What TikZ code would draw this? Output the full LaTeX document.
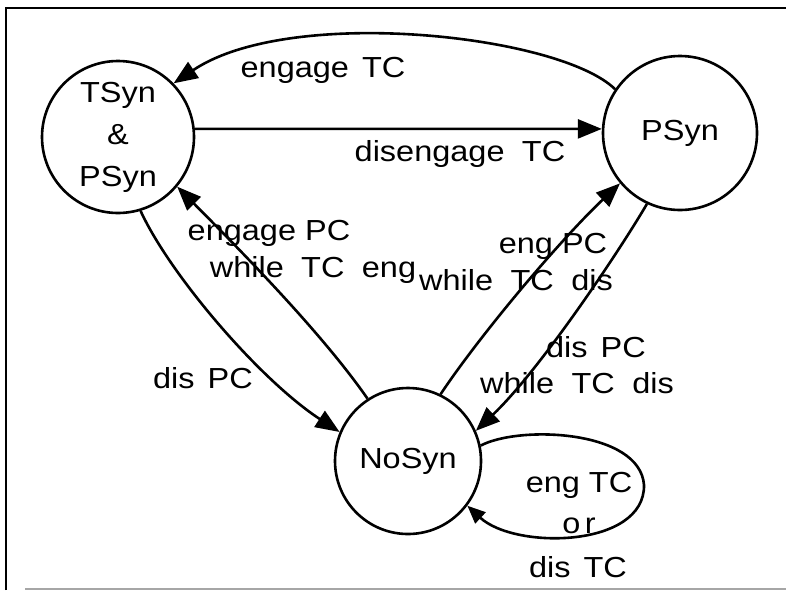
\documentclass[tikz,border=0pt]{standalone}
\usepackage{fontspec}
\setmainfont[FakeStretch=1.12]{Liberation Sans}
\usetikzlibrary{arrows.meta}
\newcommand{\wsp}{\hspace{0.6em}}
\begin{document}
\begin{tikzpicture}[x=1pt,y=-1pt,
  state/.style={circle,draw,line width=2.6pt,inner sep=0pt,minimum size=152pt,align=center,font=\fontsize{29}{42}\selectfont},
  lbl/.style={font=\fontsize{29}{38}\selectfont,inner sep=0pt,anchor=base,align=center},
  edge/.style={line width=2.6pt,-{Triangle[length=24pt,width=19pt]}},
  frame/.style={line width=2.2pt}]
\useasboundingbox (0,0) rectangle (786,590);
\draw[frame] (6,590) -- (6,8) -- (786,8);
\draw[line width=1.6pt,gray!70] (25,589) -- (786,589);

\node[state] (ts) at (118,137) {TSyn\\\&\\PSyn};
\node[state,minimum size=154pt] (ps) at (680,133) {PSyn};
\node[state,minimum size=146pt] (ns) at (408,461) {NoSyn};

% engage TC
\draw[edge] (ps.146) .. controls (560,35) and (290,5) .. (ts.44);
\node[lbl] (l1) at (323,77) {engage\hspace{0.45em}TC};
% disengage TC
\draw[edge] (ts.6) -- (ps.177);
\node[lbl] (l2) at (460,161) {disengage\wsp TC};
% engage PC while TC eng
\draw[edge] (ns.123) .. controls (320,330) and (230,240) .. (ts.-40);
\node[lbl] (l3) at (269,240) {engage PC};
\node[lbl] (l4) at (313,277) {while\wsp TC\wsp eng};
% dis PC
\draw[edge] (ts.-73) .. controls (170,275) and (260,380) .. (ns.157);
\node[lbl] (l5) at (203,388) {dis\hspace{0.45em}PC};
% eng PC while TC dis
\draw[edge] (ns.64) .. controls (480,335) and (560,240) .. (ps.-140);
\node[lbl] (l6) at (553,253) {eng PC};
\node[lbl] (l7) at (516,290) {while\wsp TC\wsp dis};
% dis PC while TC dis
\draw[edge] (ps.-115) .. controls (620,250) and (540,370) .. (ns.24);
\node[lbl] (l8) at (596,357) {dis\hspace{0.45em}PC};
\node[lbl] (l9) at (577,393) {while\wsp TC\wsp dis};
% self loop
\draw[line width=2.6pt,-{Triangle[length=18pt,width=15pt]}] (ns.12) .. controls (520,425) and (640,430) .. (644,485) .. controls (645,548) and (515,550) .. (ns.-37);
\node[lbl] (l10) at (579,492) {eng TC};
\node[lbl] (l11) at (579,533) {o\hspace{0.15em}r};
\node[lbl] (l12) at (578,577) {dis\hspace{0.45em}TC};
\end{tikzpicture}
\end{document}
